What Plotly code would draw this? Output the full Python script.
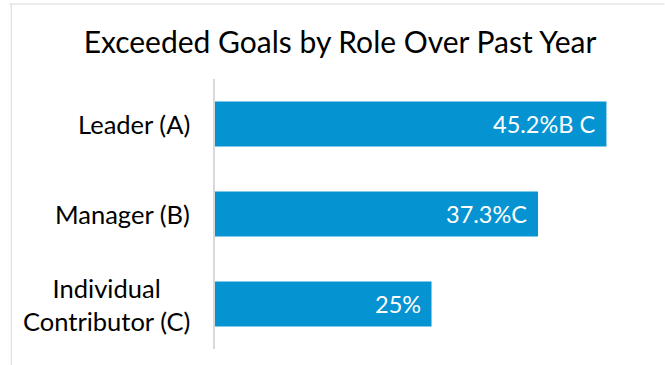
import plotly.graph_objects as go

categories = ["Leader (A)", "Manager (B)", "Individual<br>Contributor (C)"]
values = [45.2, 37.3, 25.0]
value_labels = ["45.2%B C", "37.3%C", "25%"]
title_text = "Exceeded Goals by Role Over Past Year"

W, H = 665, 365
ML, MR, MT, MB = 215, 16.5, 79, 16
FONT = "Lato, 'Open Sans', sans-serif"
BAR = "#0593D1"
GRID = "#D9D9D9"

plot_w = W - ML - MR
plot_h = H - MT - MB

def px_x(p):
    return (p - ML) / plot_w

def px_y(p):
    return (H - MB - p) / plot_h

fig = go.Figure(go.Bar(
    x=values, y=categories, orientation="h",
    marker=dict(color=BAR, line=dict(width=0)),
    width=0.5, hoverinfo="skip",
))

annotations = []
for c, v, t in zip(categories, values, value_labels):
    annotations.append(dict(x=v, y=c, xref="x", yref="y", text=t, showarrow=False,
                            xanchor="right", xshift=-9,
                            font=dict(family=FONT, size=23.5, color="white")))
    annotations.append(dict(x=0, y=c, xref="paper", yref="y", text=c, showarrow=False,
                            xanchor="right", align="center", xshift=-23,
                            font=dict(family=FONT, size=25.5, color="black")))

shapes = [
    dict(type="line", xref="paper", yref="paper", x0=px_x(9), x1=px_x(665), y0=px_y(4), y1=px_y(4),
         line=dict(color=GRID, width=1)),
    dict(type="line", xref="paper", yref="paper", x0=px_x(11), x1=px_x(11), y0=px_y(4), y1=px_y(365),
         line=dict(color=GRID, width=1)),
]

fig.update_layout(
    width=W, height=H,
    margin=dict(l=ML, r=MR, t=MT, b=MB),
    paper_bgcolor="white", plot_bgcolor="white",
    title=dict(text=title_text, x=340 / W, xref="container", xanchor="center", y=1 - 42 / H, yanchor="middle",
               font=dict(family=FONT, size=30, color="black")),
    xaxis=dict(range=[0, 50], visible=False, fixedrange=True),
    yaxis=dict(autorange="reversed", showticklabels=False, showline=True, linecolor=GRID, linewidth=2,
               showgrid=False, zeroline=False, ticks="", fixedrange=True),
    showlegend=False, bargap=0.5,
    annotations=annotations, shapes=shapes,
)

fig.write_html("out.html")
